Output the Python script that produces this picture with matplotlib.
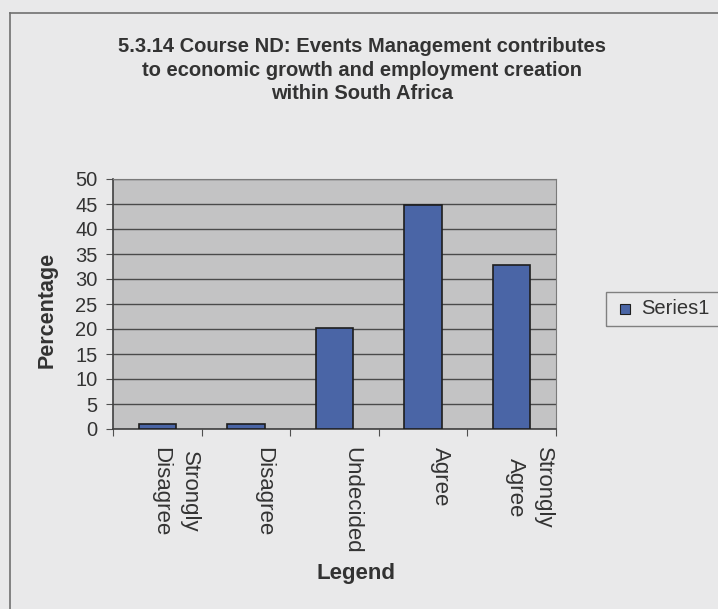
import matplotlib
matplotlib.use("Agg")
import matplotlib.pyplot as plt
from matplotlib.patches import Rectangle
from matplotlib.lines import Line2D

categories = ["Strongly\nDisagree", "Disagree", "Undecided", "Agree", "Strongly\nAgree"]
values = [1.1, 1.1, 20.3, 44.8, 32.9]
series_name = "Series1"
title = ("5.3.14 Course ND: Events Management contributes\n"
         "to economic growth and employment creation\n"
         "within South Africa")

plt.rcParams["font.family"] = ["Liberation Sans", "DejaVu Sans"]

fig = plt.figure(figsize=(7.18, 6.09), dpi=100)
fig.patch.set_facecolor("#e9e9ea")

# outer frame of the chart area (runs off the right and bottom edges)
fig.add_artist(Line2D([10 / 718, 10 / 718], [0, 1 - 13 / 609], color="#707070", lw=1.2))
fig.add_artist(Line2D([10 / 718, 1], [1 - 13 / 609, 1 - 13 / 609], color="#707070", lw=1.2))

ax = fig.add_axes([113 / 718, 1 - 429 / 609, 443 / 718, 250 / 609])
ax.set_facecolor("#c3c3c4")
x = list(range(len(categories)))
ax.bar(x, values, width=0.42, color="#4a65a6", edgecolor="#1e1e1e", linewidth=1.2,
       label=series_name, zorder=3)

ax.set_xlim(-0.5, len(categories) - 0.5)
ax.set_ylim(0, 50)
ax.set_yticks(range(0, 51, 5))
ax.yaxis.grid(True, color="#4a4a4a", linewidth=1.0, zorder=1)
ax.set_axisbelow(True)

# tick marks between categories; labels sit a little right of the bar centres
ax.set_xticks([i - 0.5 for i in range(len(categories) + 1)])
ax.set_xticklabels([""] * (len(categories) + 1))
ax.set_xticks([i + 0.2 for i in x], minor=True)
ax.set_xticklabels(categories, minor=True, rotation=270, fontsize=16, color="#333333",
                   va="top", ha="center", linespacing=1.45)
ax.tick_params(axis="x", which="minor", length=0, pad=13)
ax.tick_params(axis="x", which="major", length=5, color="#505050")
ax.tick_params(axis="y", length=5, color="#505050", labelsize=14.5, labelcolor="#333333", pad=6)

for side in ["top", "right"]:
    ax.spines[side].set_color("#7a7a7a")
for side in ["left", "bottom"]:
    ax.spines[side].set_color("#404040")
    ax.spines[side].set_linewidth(1.2)

fig.text(362 / 718, 1 - 70 / 609, title, ha="center", va="center", fontsize=14.5,
         fontweight="bold", color="#333333", linespacing=1.3)
fig.text(47 / 718, 1 - 310 / 609, "Percentage", rotation=90, ha="center", va="center",
         fontsize=15.5, fontweight="bold", color="#333333")
fig.text(356 / 718, 1 - 573 / 609, "Legend", ha="center", va="center",
         fontsize=16, fontweight="bold", color="#333333")

# legend box
fig.add_artist(Rectangle((606 / 718, 1 - 326 / 609), 120 / 718, 34 / 609,
                         facecolor="none", edgecolor="#808080", lw=1.0))
fig.add_artist(Rectangle((620 / 718, 1 - 314 / 609), 10 / 718, 10 / 609,
                         facecolor="#4a65a6", edgecolor="#1e1e1e", lw=0.8))
fig.text(641 / 718, 1 - 309 / 609, series_name, ha="left", va="center",
         fontsize=14.5, color="#333333")

fig.savefig("out.png", dpi=100, facecolor=fig.get_facecolor())
